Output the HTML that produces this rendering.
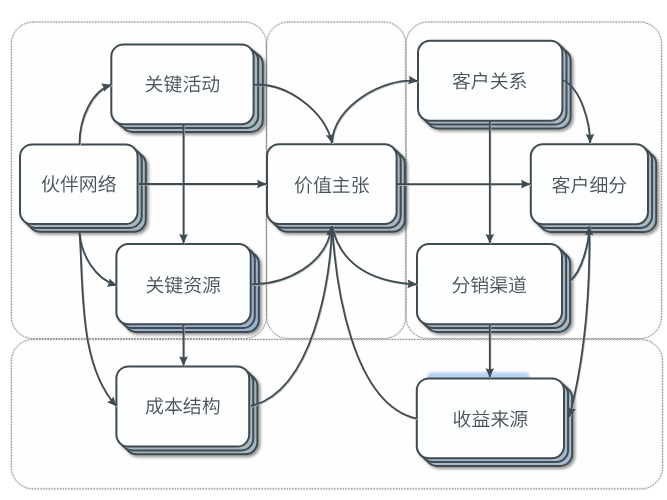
<!DOCTYPE html>
<html lang="zh-CN">
<head>
<meta charset="utf-8">
<title>商业模式画布</title>
<style>
html,body{margin:0;padding:0;background:#fff;}
body{width:667px;height:500px;overflow:hidden;}
svg{display:block;}
text{text-rendering:geometricPrecision;font-family:"Liberation Sans","Noto Sans CJK SC",sans-serif;font-weight:350;font-size:18.9px;fill:#474f55;}
</style>
</head>
<body>
<svg width="667" height="500" viewBox="0 0 667 500">
<defs>
<filter id="sh" x="-10%" y="-10%" width="125%" height="130%">
<feGaussianBlur in="SourceAlpha" stdDeviation="1.6"/>
<feOffset dx="2" dy="2" result="b"/>
<feComponentTransfer><feFuncA type="linear" slope="0.42"/></feComponentTransfer>
<feMerge><feMergeNode/><feMergeNode in="SourceGraphic"/></feMerge>
</filter>
<filter id="bl" x="-10%" y="-50%" width="120%" height="200%"><feGaussianBlur stdDeviation="1.2"/></filter>
<linearGradient id="bg" x1="0" y1="0" x2="0" y2="1">
<stop offset="0" stop-color="#ffffff"/><stop offset="1" stop-color="#fbfdfe"/>
</linearGradient>
<marker id="ah" viewBox="0 0 10 10" refX="9.6" refY="5" markerWidth="9.3" markerHeight="10" markerUnits="userSpaceOnUse" orient="auto">
<path d="M0,0.4 L10,5 L0,9.6 L1.2,5 Z" fill="#3f4b51"/>
</marker>
</defs>
<rect width="667" height="500" fill="#ffffff"/>

<g fill="#fefefe" stroke="#f0f0f0" stroke-width="2.6">
<rect x="11.4" y="22.0" width="255.0" height="316.6" rx="22" ry="22"/>
<rect x="266.6" y="22.0" width="139.2" height="316.6" rx="22" ry="22"/>
<rect x="406.0" y="22.0" width="255.6" height="316.6" rx="22" ry="22"/>
<rect x="11.3" y="339.4" width="651.3" height="149.5" rx="22" ry="22"/>
</g>
<g fill="none" stroke="#787878" stroke-width="0.9" stroke-dasharray="1.5 1.3">
<rect x="11.4" y="22.0" width="255.0" height="316.6" rx="22" ry="22"/>
<rect x="266.6" y="22.0" width="139.2" height="316.6" rx="22" ry="22"/>
<rect x="406.0" y="22.0" width="255.6" height="316.6" rx="22" ry="22"/>
<rect x="11.3" y="339.4" width="651.3" height="149.5" rx="22" ry="22"/>
</g>
<rect x="427.5" y="372.2" width="102" height="12" rx="4" fill="#b9d4f3" filter="url(#bl)"/>
<g filter="url(#sh)">
<rect x="120.5" y="52.3" width="142.3" height="79.6" rx="12" fill="#a6b7c2" stroke="#3f4b51" stroke-width="2"/>
<rect x="115.9" y="48.5" width="142.3" height="79.6" rx="12" fill="#a6b7c2" stroke="#3f4b51" stroke-width="2"/>
<rect x="111.3" y="44.6" width="142.3" height="79.6" rx="12" fill="url(#bg)" stroke="#3f4b51" stroke-width="2"/>
</g>
<g filter="url(#sh)">
<rect x="28.2" y="152.3" width="117.6" height="79.5" rx="12" fill="#a6b7c2" stroke="#3f4b51" stroke-width="2"/>
<rect x="24.1" y="148.4" width="117.6" height="79.5" rx="12" fill="#a6b7c2" stroke="#3f4b51" stroke-width="2"/>
<rect x="20.0" y="144.6" width="117.6" height="79.5" rx="12" fill="url(#bg)" stroke="#3f4b51" stroke-width="2"/>
</g>
<g filter="url(#sh)">
<rect x="124.6" y="251.7" width="134.3" height="80.3" rx="12" fill="#9bb0cf" stroke="#3f4b51" stroke-width="2"/>
<rect x="120.5" y="247.8" width="134.3" height="80.3" rx="12" fill="#9bb0cf" stroke="#3f4b51" stroke-width="2"/>
<rect x="116.4" y="244.0" width="134.3" height="80.3" rx="12" fill="url(#bg)" stroke="#3f4b51" stroke-width="2"/>
</g>
<g filter="url(#sh)">
<rect x="124.6" y="374.1" width="132.8" height="80.2" rx="12" fill="#a6b7c2" stroke="#3f4b51" stroke-width="2"/>
<rect x="120.5" y="370.2" width="132.8" height="80.2" rx="12" fill="#a6b7c2" stroke="#3f4b51" stroke-width="2"/>
<rect x="116.4" y="366.4" width="132.8" height="80.2" rx="12" fill="url(#bg)" stroke="#3f4b51" stroke-width="2"/>
</g>
<g filter="url(#sh)">
<rect x="275.2" y="151.9" width="129.6" height="79.8" rx="12" fill="#a6b7c2" stroke="#3f4b51" stroke-width="2"/>
<rect x="271.1" y="148.0" width="129.6" height="79.8" rx="12" fill="#a6b7c2" stroke="#3f4b51" stroke-width="2"/>
<rect x="267.0" y="144.2" width="129.6" height="79.8" rx="12" fill="url(#bg)" stroke="#3f4b51" stroke-width="2"/>
</g>
<g filter="url(#sh)">
<rect x="426.2" y="48.4" width="144.4" height="80.0" rx="12" fill="#a6b7c2" stroke="#3f4b51" stroke-width="2"/>
<rect x="422.1" y="44.6" width="144.4" height="80.0" rx="12" fill="#a6b7c2" stroke="#3f4b51" stroke-width="2"/>
<rect x="418.0" y="40.7" width="144.4" height="80.0" rx="12" fill="url(#bg)" stroke="#3f4b51" stroke-width="2"/>
</g>
<g filter="url(#sh)">
<rect x="539.0" y="151.9" width="117.2" height="80.0" rx="12" fill="#a6b7c2" stroke="#3f4b51" stroke-width="2"/>
<rect x="534.9" y="148.0" width="117.2" height="80.0" rx="12" fill="#a6b7c2" stroke="#3f4b51" stroke-width="2"/>
<rect x="530.8" y="144.2" width="117.2" height="80.0" rx="12" fill="url(#bg)" stroke="#3f4b51" stroke-width="2"/>
</g>
<g filter="url(#sh)">
<rect x="425.2" y="251.7" width="145.0" height="80.2" rx="12" fill="#a6b7c2" stroke="#3f4b51" stroke-width="2"/>
<rect x="421.1" y="247.8" width="145.0" height="80.2" rx="12" fill="#a6b7c2" stroke="#3f4b51" stroke-width="2"/>
<rect x="417.0" y="244.0" width="145.0" height="80.2" rx="12" fill="url(#bg)" stroke="#3f4b51" stroke-width="2"/>
</g>
<g filter="url(#sh)">
<rect x="425.0" y="386.1" width="147.2" height="79.8" rx="12" fill="#a6bbd0" stroke="#3f4b51" stroke-width="2"/>
<rect x="420.9" y="382.2" width="147.2" height="79.8" rx="12" fill="#a6bbd0" stroke="#3f4b51" stroke-width="2"/>
<rect x="416.8" y="378.4" width="147.2" height="79.8" rx="12" fill="url(#bg)" stroke="#3f4b51" stroke-width="2"/>
</g>
<g transform="translate(0.9,0.9)" fill="none" stroke="#b4babd" stroke-width="1.3">
<path d="M183.5,124 L183.5,243"/>
<path d="M183.5,324 L183.5,365.4"/>
<path d="M139,184 L266,184"/>
<path d="M397,184.1 L530,184.1"/>
<path d="M489.8,121 L489.8,243"/>
<path d="M489.8,324 L489.8,377.2"/>
<path d="M79.5,144 C79.3,118 92,91 111,84.8"/>
<path d="M79.5,232.8 C81.1,254.6 94.6,278.6 116.6,285.3"/>
<path d="M79.5,232.8 C83.7,284.9 78.0,364.5 116.3,406.0"/>
<path d="M253.0,85.0 C286.2,81.9 324.8,110.8 332.0,143.0"/>
<path d="M332.0,143.0 C332.6,107.0 383.2,77.0 417.5,81.0"/>
<path d="M252.0,284.4 C285.9,283.8 327.1,264.4 331.5,226.5"/>
<path d="M251.0,406.0 C312.8,391.2 331.3,277.2 331.8,226.5"/>
<path d="M332.2,226.5 C341.1,268.5 377.9,282.5 416.5,284.3"/>
<path d="M332.2,226.5 C335.4,280.4 350.6,403.3 416.5,418.7"/>
<path d="M562.4,80.0 C581.5,88.0 590.1,124.2 590.0,143.0"/>
<path d="M570.0,281.1 C582.5,270.4 588.8,242.7 589.4,226.5"/>
<path d="M589.3,226.5 C590.3,291.1 585.6,353.9 569.5,416.6"/>
</g>
<path d="M183.5,124 L183.5,243" fill="none" stroke="#3f4b51" stroke-width="1.8" marker-end="url(#ah)"/>
<path d="M183.5,324 L183.5,365.4" fill="none" stroke="#3f4b51" stroke-width="1.8" marker-end="url(#ah)"/>
<path d="M139,184 L266,184" fill="none" stroke="#3f4b51" stroke-width="1.8" marker-end="url(#ah)"/>
<path d="M397,184.1 L530,184.1" fill="none" stroke="#3f4b51" stroke-width="1.8" marker-end="url(#ah)"/>
<path d="M489.8,121 L489.8,243" fill="none" stroke="#3f4b51" stroke-width="1.8" marker-end="url(#ah)"/>
<path d="M489.8,324 L489.8,377.2" fill="none" stroke="#3f4b51" stroke-width="1.8" marker-end="url(#ah)"/>
<path d="M79.5,144 C79.3,118 92,91 111,84.8" fill="none" stroke="#3f4b51" stroke-width="1.8" marker-end="url(#ah)"/>
<path d="M79.5,232.8 C81.1,254.6 94.6,278.6 116.6,285.3" fill="none" stroke="#3f4b51" stroke-width="1.8" marker-end="url(#ah)"/>
<path d="M79.5,232.8 C83.7,284.9 78.0,364.5 116.3,406.0" fill="none" stroke="#3f4b51" stroke-width="1.8" marker-end="url(#ah)"/>
<path d="M253.0,85.0 C286.2,81.9 324.8,110.8 332.0,143.0" fill="none" stroke="#3f4b51" stroke-width="1.8" marker-end="url(#ah)"/>
<path d="M332.0,143.0 C332.6,107.0 383.2,77.0 417.5,81.0" fill="none" stroke="#3f4b51" stroke-width="1.8" marker-end="url(#ah)"/>
<path d="M252.0,284.4 C285.9,283.8 327.1,264.4 331.5,226.5" fill="none" stroke="#3f4b51" stroke-width="1.8" marker-end="url(#ah)"/>
<path d="M251.0,406.0 C312.8,391.2 331.3,277.2 331.8,226.5" fill="none" stroke="#3f4b51" stroke-width="1.8" marker-end="url(#ah)"/>
<path d="M332.2,226.5 C341.1,268.5 377.9,282.5 416.5,284.3" fill="none" stroke="#3f4b51" stroke-width="1.8" marker-end="url(#ah)"/>
<path d="M332.2,226.5 C335.4,280.4 350.6,403.3 416.5,418.7" fill="none" stroke="#3f4b51" stroke-width="1.8"/>
<path d="M562.4,80.0 C581.5,88.0 590.1,124.2 590.0,143.0" fill="none" stroke="#3f4b51" stroke-width="1.8" marker-end="url(#ah)"/>
<path d="M570.0,281.1 C582.5,270.4 588.8,242.7 589.4,226.5" fill="none" stroke="#3f4b51" stroke-width="1.8" marker-end="url(#ah)"/>
<path d="M589.3,226.5 C590.3,291.1 585.6,353.9 569.5,416.6" fill="none" stroke="#3f4b51" stroke-width="1.8" marker-end="url(#ah)"/>
<g opacity="0.99">
<text x="182.4" y="90.8" text-anchor="middle">关键活动</text>
<text x="78.8" y="191.3" text-anchor="middle">伙伴网络</text>
<text x="183.2" y="291.5" text-anchor="middle">关键资源</text>
<text x="182.8" y="413.4" text-anchor="middle">成本结构</text>
<text x="331.8" y="191.5" text-anchor="middle">价值主张</text>
<text x="489.7" y="87.7" text-anchor="middle">客户关系</text>
<text x="589.4" y="191.6" text-anchor="middle">客户细分</text>
<text x="489.2" y="291.5" text-anchor="middle">分销渠道</text>
<text x="490.4" y="425.7" text-anchor="middle">收益来源</text>
</g>
</svg>
</body>
</html>
